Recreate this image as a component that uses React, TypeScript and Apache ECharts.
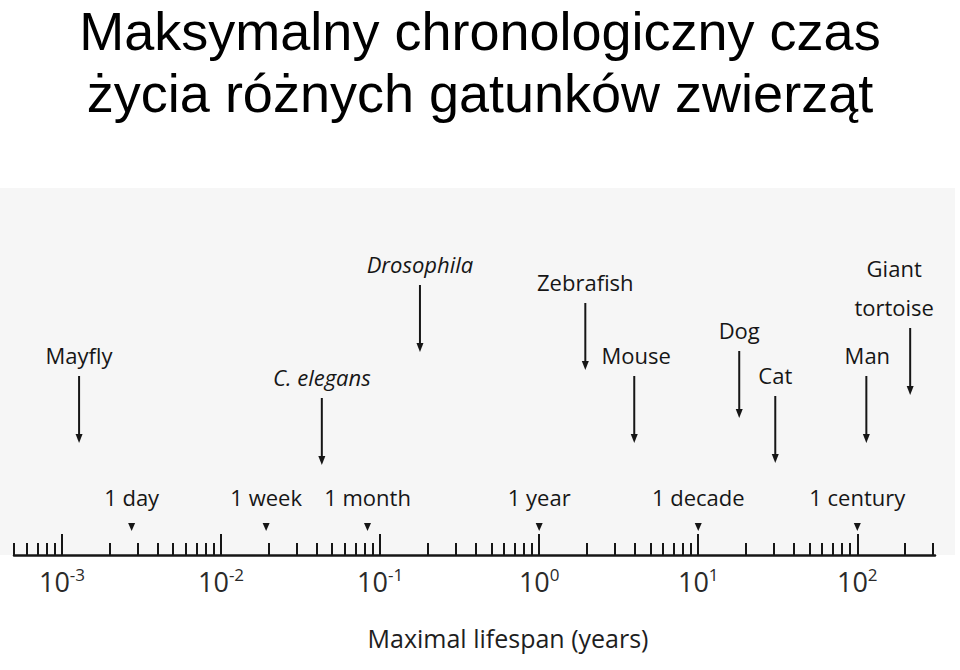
import React, { useEffect, useRef } from "react";
import * as echarts from "echarts";

// ---- data ----
const titleLines = ["Maksymalny chronologiczny czas", "życia różnych gatunków zwierząt"];
const speciesNames = ["Mayfly", "C. elegans", "Drosophila", "Zebrafish", "Mouse", "Dog", "Cat", "Man", "Giant\ntortoise"];
const speciesItalic = [false, true, true, false, false, false, false, false, false];
const lifespanYears = [0.00128, 0.043, 0.178, 1.95, 3.96, 18.1, 30.5, 114, 215];

const timeMarkerNames = ["1 day", "1 week", "1 month", "1 year", "1 decade", "1 century"];
const timeMarkerYears = [0.00274, 0.0192, 0.0833, 1, 10, 100];

const majorTicks = [0.001, 0.01, 0.1, 1, 10, 100];
const minorMultipliers = [2, 3, 4, 5, 6, 7, 8, 9];
const minorDecades = [0.0001, 0.001, 0.01, 0.1, 1, 10, 100];

const axisMin = 0.000499;
const axisMax = 308;

// ---- layout (pixels) ----
const titleLineY = [30.5, 92.5];
const arrowTipY = [443, 465, 352, 370, 443, 418, 463, 443, 395];
const labelDx = [0, 0, 0, 0, 2, 0, 0, 1, -16];
const ARROW_LEN = 67;

const FONT = "'Open Sans', 'Noto Sans', sans-serif";
const TITLE_FONT = "'Liberation Sans', Arial, sans-serif";
const INK = "#161616";

export default function App() {
  const ref = useRef<HTMLDivElement>(null);

  useEffect(() => {
    if (!ref.current) return;
    const chart = echarts.init(ref.current, null, { renderer: "svg" });

    const minorTicks: number[] = [];
    minorDecades.forEach((d) =>
      minorMultipliers.forEach((m) => {
        const v = +(d * m).toPrecision(3);
        if (v >= axisMin && v <= axisMax) minorTicks.push(v);
      })
    );

    const option: any = {
      animation: false,
      backgroundColor: "#ffffff",
      graphic: [
        {
          type: "rect",
          z: -10,
          silent: true,
          shape: { x: 0, y: 188, width: 955, height: 367 },
          style: { fill: "#f6f6f6" },
        },
        ...titleLines.map((t, i) => ({
          type: "text",
          x: 480,
          y: titleLineY[i],
          style: {
            text: t,
            align: "center",
            verticalAlign: "middle",
            fontFamily: TITLE_FONT,
            fontSize: 54,
            lineHeight: 58,
            fill: "#000",
          },
        })),
        {
          type: "text",
          x: 508,
          y: 638,
          style: {
            text: "Maximal lifespan (years)",
            align: "center",
            verticalAlign: "middle",
            fontFamily: FONT,
            fontSize: 25,
            fill: "#1e1e1e",
          },
        },
      ],
      grid: { left: 14, right: 25, top: 188, bottom: 115, containLabel: false },
      xAxis: [
        {
          type: "log",
          logBase: 10,
          min: axisMin,
          max: axisMax,
          position: "bottom",
          axisLine: { show: true, lineStyle: { color: INK, width: 2.5 } },
          axisTick: {
            show: true,
            inside: true,
            length: 21,
            customValues: majorTicks,
            lineStyle: { color: INK, width: 2 },
          },
          axisLabel: {
            show: true,
            customValues: majorTicks,
            margin: 11,
            formatter: (v: number) => {
              const e = Math.round(Math.log10(v));
              return "{b|10}{s|" + e + "}";
            },
            rich: {
              b: { fontFamily: FONT, fontSize: 27, color: "#2a2a2a", lineHeight: 30 },
              s: { fontFamily: FONT, fontSize: 17, color: "#2a2a2a", verticalAlign: "top", lineHeight: 17 },
            },
          },
          splitLine: { show: false },
          minorTick: { show: false },
        },
        {
          type: "log",
          logBase: 10,
          min: axisMin,
          max: axisMax,
          position: "bottom",
          axisLine: { show: false },
          axisTick: {
            show: true,
            inside: true,
            length: 12,
            customValues: minorTicks,
            lineStyle: { color: INK, width: 2 },
          },
          axisLabel: { show: false },
          splitLine: { show: false },
        },
      ],
      yAxis: { type: "value", min: 0, max: 1, show: false },
      series: [
        {
          type: "custom",
          clip: false,
          xAxisIndex: 0,
          data: lifespanYears.map((v) => [v, 0]),
          renderItem: (params: any, api: any) => {
            const i = params.dataIndex;
            const x = api.coord([api.value(0), 0])[0];
            const tip = arrowTipY[i];
            const top = tip - ARROW_LEN;
            return {
              type: "group",
              children: [
                {
                  type: "line",
                  shape: { x1: x, y1: top, x2: x, y2: tip - 6 },
                  style: { stroke: INK, lineWidth: 2 },
                },
                {
                  type: "polygon",
                  shape: { points: [[x - 3.5, tip - 9], [x + 3.5, tip - 9], [x, tip]] },
                  style: { fill: INK },
                },
                {
                  type: "text",
                  x: x + labelDx[i],
                  y: top - 2,
                  style: {
                    text: speciesNames[i],
                    align: "center",
                    verticalAlign: "bottom",
                    fontFamily: FONT,
                    fontSize: 22,
                    lineHeight: 39,
                    fontStyle: speciesItalic[i] ? "italic" : "normal",
                    fill: INK,
                  },
                },
              ],
            };
          },
        },
        {
          type: "custom",
          clip: false,
          xAxisIndex: 0,
          data: timeMarkerYears.map((v) => [v, 0]),
          renderItem: (params: any, api: any) => {
            const i = params.dataIndex;
            const x = api.coord([api.value(0), 0])[0];
            return {
              type: "group",
              children: [
                {
                  type: "polygon",
                  shape: { points: [[x - 3.5, 523], [x + 3.5, 523], [x, 531]] },
                  style: { fill: INK },
                },
                {
                  type: "text",
                  x: x,
                  y: 508,
                  style: {
                    text: timeMarkerNames[i],
                    align: "center",
                    verticalAlign: "bottom",
                    fontFamily: FONT,
                    fontSize: 22,
                    fill: INK,
                  },
                },
              ],
            };
          },
        },
      ],
    };

    chart.setOption(option);
    return () => chart.dispose();
  }, []);

  return (
    <div
      ref={ref}
      style={{ position: "fixed", left: 0, top: 0, width: 960, height: 670 }}
    />
  );
}
